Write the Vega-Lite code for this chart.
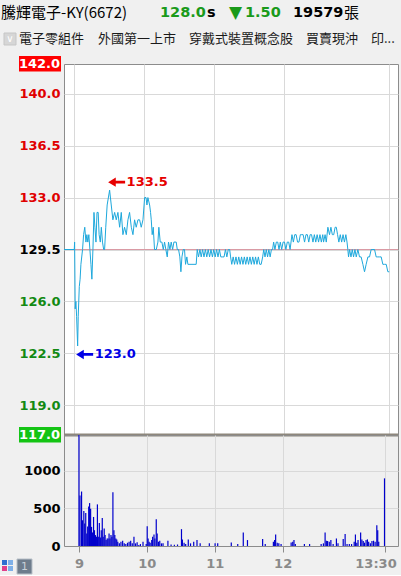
{
"$schema":"https://vega.github.io/schema/vega-lite/v6.json",
"background":"#f0f0f0",
"padding":0,
"autosize":{"type":"pad"},
"bounds":"flush",
"spacing":0,
"config":{"view":{"stroke":"#8c8c8c","fill":"#ffffff","strokeWidth":1},"axis":{"labelFont":"DejaVu Sans","labelFontWeight":"bold","labelFontSize":13,"gridColor":"#d9d9d9","gridWidth":1}},
"datasets":{
"price":[{"t":-8.8,"p":129.5},{"t":0,"p":129.5},{"t":0.3,"p":130.0},{"t":0.8,"p":125.5},{"t":1.4,"p":126.0},{"t":2.0,"p":125.0},{"t":2.9,"p":123.0},{"t":3.4,"p":125.0},{"t":4.3,"p":127.0},{"t":5.0,"p":127.5},{"t":5.7,"p":128.5},{"t":7.1,"p":129.5},{"t":8.0,"p":130.5},{"t":9.0,"p":131.0},{"t":10.0,"p":130.0},{"t":10.8,"p":130.5},{"t":11.6,"p":130.0},{"t":12.5,"p":130.5},{"t":13.4,"p":129.5},{"t":14.3,"p":128.5},{"t":15.1,"p":127.5},{"t":16.0,"p":129.5},{"t":16.9,"p":132.0},{"t":17.7,"p":131.0},{"t":18.6,"p":130.0},{"t":19.5,"p":132.0},{"t":20.5,"p":132.0},{"t":21.3,"p":130.5},{"t":22.3,"p":130.0},{"t":23.2,"p":131.0},{"t":24.2,"p":130.0},{"t":25.2,"p":129.5},{"t":26.0,"p":129.5},{"t":27.0,"p":131.0},{"t":28.2,"p":132.5},{"t":30.3,"p":133.5},{"t":31.7,"p":132.5},{"t":33.1,"p":131.5},{"t":34.6,"p":132.0},{"t":36.0,"p":131.5},{"t":37.4,"p":132.0},{"t":38.9,"p":131.0},{"t":40.3,"p":132.0},{"t":41.7,"p":130.5},{"t":43.1,"p":131.0},{"t":44.6,"p":130.5},{"t":46.0,"p":131.5},{"t":47.4,"p":132.0},{"t":48.9,"p":131.0},{"t":50.3,"p":130.5},{"t":51.7,"p":131.5},{"t":53.1,"p":131.0},{"t":54.6,"p":131.5},{"t":56.0,"p":131.5},{"t":57.4,"p":131.0},{"t":58.9,"p":131.5},{"t":60.3,"p":133.0},{"t":61.5,"p":133.0},{"t":62.3,"p":132.5},{"t":63.1,"p":133.0},{"t":64.6,"p":132.5},{"t":65.4,"p":132.0},{"t":66.0,"p":131.5},{"t":66.8,"p":130.5},{"t":67.7,"p":131.0},{"t":68.8,"p":129.5},{"t":70.3,"p":129.5},{"t":71.7,"p":130.0},{"t":72.5,"p":131.0},{"t":73.7,"p":130.0},{"t":75.1,"p":130.0},{"t":76.3,"p":129.5},{"t":77.4,"p":130.0},{"t":78.5,"p":129.5},{"t":79.7,"p":129.0},{"t":80.8,"p":130.0},{"t":82.0,"p":129.5},{"t":83.1,"p":130.0},{"t":84.3,"p":129.5},{"t":85.4,"p":130.0},{"t":87.4,"p":130.0},{"t":88.3,"p":129.5},{"t":89.4,"p":129.5},{"t":90.5,"p":129.0},{"t":91.4,"p":128.0},{"t":92.3,"p":129.0},{"t":93.4,"p":129.5},{"t":94.5,"p":129.5},{"t":95.4,"p":128.5},{"t":96.5,"p":129.0},{"t":97.4,"p":128.5},{"t":104.5,"p":128.5},{"t":105.4,"p":129.5},{"t":106.5,"p":129.0},{"t":107.7,"p":129.5},{"t":108.8,"p":129.0},{"t":110.0,"p":129.5},{"t":111.2,"p":129.0},{"t":112.4,"p":129.5},{"t":113.6,"p":129.0},{"t":114.8,"p":129.5},{"t":116.0,"p":129.0},{"t":117.2,"p":129.5},{"t":118.4,"p":129.0},{"t":119.6,"p":129.5},{"t":120.8,"p":129.0},{"t":122.0,"p":129.5},{"t":123.2,"p":129.0},{"t":124.4,"p":129.5},{"t":125.6,"p":129.0},{"t":126.8,"p":129.0},{"t":128.4,"p":129.0},{"t":129.6,"p":129.5},{"t":130.8,"p":129.0},{"t":132.0,"p":129.5},{"t":133.2,"p":129.5},{"t":134.0,"p":129.0},{"t":135.0,"p":128.5},{"t":136.2,"p":129.0},{"t":137.4,"p":128.5},{"t":138.6,"p":129.0},{"t":139.8,"p":128.5},{"t":141.0,"p":129.0},{"t":142.2,"p":128.5},{"t":143.4,"p":129.0},{"t":144.6,"p":128.5},{"t":145.8,"p":129.0},{"t":147.0,"p":128.5},{"t":148.2,"p":129.0},{"t":149.4,"p":128.5},{"t":150.6,"p":129.0},{"t":151.8,"p":128.5},{"t":153.0,"p":129.0},{"t":154.2,"p":128.5},{"t":155.4,"p":129.0},{"t":156.6,"p":128.5},{"t":157.8,"p":129.0},{"t":159.0,"p":128.5},{"t":160.2,"p":128.5},{"t":161.5,"p":129.0},{"t":162.4,"p":129.5},{"t":163.5,"p":129.0},{"t":164.6,"p":129.5},{"t":165.7,"p":129.0},{"t":166.8,"p":129.5},{"t":167.9,"p":129.0},{"t":169.0,"p":129.5},{"t":170.0,"p":129.5},{"t":170.9,"p":130.0},{"t":172.0,"p":129.5},{"t":173.2,"p":130.0},{"t":174.4,"p":130.0},{"t":175.5,"p":129.5},{"t":176.6,"p":130.0},{"t":177.8,"p":129.5},{"t":179.0,"p":130.0},{"t":180.2,"p":130.0},{"t":181.4,"p":129.5},{"t":182.6,"p":130.0},{"t":183.8,"p":130.0},{"t":185.0,"p":129.5},{"t":186.6,"p":130.5},{"t":187.8,"p":130.0},{"t":189.0,"p":130.5},{"t":190.2,"p":130.5},{"t":191.4,"p":130.0},{"t":192.6,"p":130.0},{"t":193.8,"p":130.5},{"t":195.0,"p":130.5},{"t":196.2,"p":130.5},{"t":197.4,"p":130.0},{"t":198.6,"p":130.5},{"t":199.8,"p":130.5},{"t":201.0,"p":130.0},{"t":202.2,"p":130.5},{"t":203.4,"p":130.5},{"t":204.6,"p":130.0},{"t":205.8,"p":130.5},{"t":207.0,"p":130.0},{"t":208.2,"p":130.5},{"t":209.4,"p":130.0},{"t":210.6,"p":130.5},{"t":211.8,"p":130.0},{"t":213.0,"p":130.5},{"t":213.7,"p":130.0},{"t":215.0,"p":130.5},{"t":216.0,"p":130.0},{"t":217.4,"p":131.0},{"t":218.8,"p":130.5},{"t":220.0,"p":131.0},{"t":221.2,"p":130.5},{"t":222.4,"p":130.5},{"t":223.6,"p":131.0},{"t":224.6,"p":131.0},{"t":225.7,"p":130.5},{"t":226.8,"p":130.0},{"t":228.0,"p":130.5},{"t":229.2,"p":130.0},{"t":230.4,"p":130.5},{"t":231.6,"p":130.0},{"t":232.8,"p":130.5},{"t":233.8,"p":130.0},{"t":234.5,"p":129.5},{"t":235.1,"p":129.0},{"t":236.0,"p":129.5},{"t":237.2,"p":129.0},{"t":238.3,"p":129.5},{"t":239.4,"p":129.0},{"t":240.6,"p":129.5},{"t":241.7,"p":129.0},{"t":243.1,"p":129.5},{"t":244.5,"p":129.0},{"t":245.9,"p":129.0},{"t":247.4,"p":128.5},{"t":248.8,"p":128.0},{"t":250.2,"p":128.5},{"t":251.7,"p":129.0},{"t":253.1,"p":129.0},{"t":254.5,"p":129.5},{"t":256.0,"p":129.5},{"t":257.4,"p":129.5},{"t":258.8,"p":129.0},{"t":260.2,"p":129.0},{"t":261.7,"p":129.0},{"t":263.1,"p":129.0},{"t":264.5,"p":128.5},{"t":266.0,"p":128.5},{"t":267.4,"p":128.5},{"t":268.8,"p":128.0},{"t":270.0,"p":128.0}],
"volume":[{"t":0,"v":1475},{"t":0.9,"v":671},{"t":2.3,"v":724},{"t":3.1,"v":342},{"t":4.3,"v":465},{"t":5.1,"v":298},{"t":6.0,"v":439},{"t":6.9,"v":167},{"t":7.7,"v":260},{"t":8.6,"v":526},{"t":9.4,"v":570},{"t":10.3,"v":496},{"t":11.1,"v":254},{"t":12.0,"v":180},{"t":12.9,"v":386},{"t":13.7,"v":210},{"t":14.6,"v":145},{"t":15.4,"v":123},{"t":16.3,"v":553},{"t":17.1,"v":123},{"t":18.0,"v":307},{"t":18.9,"v":114},{"t":19.7,"v":210},{"t":20.6,"v":373},{"t":21.4,"v":123},{"t":22.3,"v":232},{"t":23.1,"v":145},{"t":24.0,"v":80},{"t":24.9,"v":100},{"t":25.7,"v":100},{"t":26.6,"v":167},{"t":27.4,"v":100},{"t":28.3,"v":145},{"t":29.1,"v":123},{"t":30.0,"v":715},{"t":30.9,"v":210},{"t":31.7,"v":145},{"t":32.6,"v":100},{"t":33.4,"v":88},{"t":34.3,"v":57},{"t":35.7,"v":35},{"t":37.1,"v":57},{"t":38.6,"v":70},{"t":40.0,"v":35},{"t":41.4,"v":26},{"t":42.9,"v":44},{"t":44.3,"v":57},{"t":45.7,"v":70},{"t":47.1,"v":35},{"t":48.6,"v":123},{"t":50.0,"v":35},{"t":51.4,"v":50},{"t":52.9,"v":13},{"t":54.3,"v":26},{"t":56.6,"v":57},{"t":59.4,"v":26},{"t":60.3,"v":263},{"t":61.1,"v":100},{"t":62.0,"v":57},{"t":62.9,"v":44},{"t":64.3,"v":79},{"t":65.1,"v":123},{"t":66.3,"v":153},{"t":67.1,"v":100},{"t":68.3,"v":355},{"t":69.1,"v":167},{"t":70.3,"v":57},{"t":71.4,"v":70},{"t":72.9,"v":35},{"t":74.3,"v":35},{"t":78.6,"v":70},{"t":81.4,"v":20},{"t":84.3,"v":15},{"t":87.1,"v":20},{"t":90.6,"v":224},{"t":91.4,"v":88},{"t":92.9,"v":44},{"t":94.3,"v":26},{"t":96.6,"v":88},{"t":98.6,"v":35},{"t":101.4,"v":57},{"t":104.3,"v":79},{"t":107.1,"v":35},{"t":115.2,"v":35},{"t":120.3,"v":35},{"t":122.6,"v":35},{"t":134.6,"v":48},{"t":140.3,"v":26},{"t":145.2,"v":180},{"t":148.9,"v":79},{"t":162.3,"v":92},{"t":164.6,"v":26},{"t":171.8,"v":57},{"t":172.9,"v":79},{"t":173.8,"v":153},{"t":175.2,"v":44},{"t":176.6,"v":35},{"t":178.6,"v":26},{"t":187.5,"v":48},{"t":188.9,"v":57},{"t":190.0,"v":79},{"t":191.2,"v":26},{"t":199.2,"v":26},{"t":203.8,"v":26},{"t":214.0,"v":26},{"t":216.0,"v":35},{"t":217.5,"v":180},{"t":218.6,"v":70},{"t":219.7,"v":66},{"t":221.2,"v":57},{"t":222.6,"v":79},{"t":224.6,"v":26},{"t":227.5,"v":100},{"t":228.9,"v":35},{"t":233.5,"v":92},{"t":235.2,"v":158},{"t":236.9,"v":26},{"t":238.9,"v":26},{"t":240.9,"v":26},{"t":243.2,"v":57},{"t":244.3,"v":153},{"t":245.5,"v":44},{"t":246.6,"v":79},{"t":248.9,"v":180},{"t":250.0,"v":88},{"t":251.2,"v":66},{"t":252.3,"v":44},{"t":253.7,"v":79},{"t":254.9,"v":88},{"t":256.0,"v":57},{"t":257.5,"v":35},{"t":258.9,"v":66},{"t":260.3,"v":70},{"t":261.7,"v":57},{"t":263.2,"v":276},{"t":264.0,"v":210},{"t":264.9,"v":57},{"t":270.0,"v":899}],
"extremes":[{"t":30.3,"p":133.5,"kind":"high"},{"t":2.9,"p":123.0,"kind":"low"}],
"limits":[{"p":142.0,"kind":"limitUp"},{"p":117.0,"kind":"limitDown"}]
},
"vconcat":[
{"width":334,"height":371,
"layer":[
{"data":{"values":[{}]},"mark":{"type":"rect","x":-63,"x2":338,"y":-63,"y2":0,"fill":"#f0f0f0"},"encoding":{}},
{"data":{"values":[{}]},"mark":{"type":"rule","x":-63,"x2":338,"y":-16,"y2":-16,"stroke":"#c4c4c4","strokeWidth":1},"encoding":{}},
{"data":{"values":[{"s":"騰輝電子-KY(6672)"}]},"mark":{"type":"text","x":-63,"y":-51.5,"align":"left","baseline":"middle","font":"Noto Sans CJK TC","fontSize":15,"fill":"#000000"},"encoding":{"text":{"field":"s"}}},
{"data":{"values":[{"s":"128.0"}]},"mark":{"type":"text","x":96,"y":-51.5,"align":"left","baseline":"middle","font":"DejaVu Sans","fontWeight":"bold","fontSize":14.5,"fill":"#1a9a1a"},"encoding":{"text":{"field":"s"}}},
{"data":{"values":[{"s":"s"}]},"mark":{"type":"text","x":143,"y":-51.5,"align":"left","baseline":"middle","font":"DejaVu Sans","fontWeight":"bold","fontSize":14.5,"fill":"#000000"},"encoding":{"text":{"field":"s"}}},
{"data":{"values":[{"s":"▼"}]},"mark":{"type":"text","x":165,"y":-51.5,"align":"left","baseline":"middle","font":"DejaVu Sans","fontSize":17,"fill":"#1a9a1a"},"encoding":{"text":{"field":"s"}}},
{"data":{"values":[{"s":"1.50"}]},"mark":{"type":"text","x":181,"y":-51.5,"align":"left","baseline":"middle","font":"DejaVu Sans","fontWeight":"bold","fontSize":14.5,"fill":"#1a9a1a"},"encoding":{"text":{"field":"s"}}},
{"data":{"values":[{"s":"19579"}]},"mark":{"type":"text","x":229,"y":-51.5,"align":"left","baseline":"middle","font":"DejaVu Sans","fontWeight":"bold","fontSize":14.5,"fill":"#000000"},"encoding":{"text":{"field":"s"}}},
{"data":{"values":[{"s":"張"}]},"mark":{"type":"text","x":280,"y":-51.5,"align":"left","baseline":"middle","font":"Noto Sans CJK TC","fontSize":15,"fill":"#000000"},"encoding":{"text":{"field":"s"}}},
{"data":{"values":[{}]},"mark":{"type":"rect","x":-60,"x2":-48,"y":-31,"y2":-19,"fill":"#d6d6d6","stroke":"#c6c6c6"},"encoding":{}},
{"data":{"values":[{"s":"∨"}]},"mark":{"type":"text","x":-54,"y":-25,"align":"center","baseline":"middle","font":"DejaVu Sans","fontSize":10,"fill":"#ffffff"},"encoding":{"text":{"field":"s"}}},
{"data":{"values":[{"s":"電子零組件"}]},"mark":{"type":"text","x":-45,"y":-25,"align":"left","baseline":"middle","font":"Noto Sans CJK TC","fontSize":13,"fill":"#1a1a1a"},"encoding":{"text":{"field":"s"}}},
{"data":{"values":[{"s":"外國第一上市"}]},"mark":{"type":"text","x":34,"y":-25,"align":"left","baseline":"middle","font":"Noto Sans CJK TC","fontSize":13,"fill":"#1a1a1a"},"encoding":{"text":{"field":"s"}}},
{"data":{"values":[{"s":"穿戴式裝置概念股"}]},"mark":{"type":"text","x":125,"y":-25,"align":"left","baseline":"middle","font":"Noto Sans CJK TC","fontSize":13,"fill":"#1a1a1a"},"encoding":{"text":{"field":"s"}}},
{"data":{"values":[{"s":"買賣現沖"}]},"mark":{"type":"text","x":242,"y":-25,"align":"left","baseline":"middle","font":"Noto Sans CJK TC","fontSize":13,"fill":"#1a1a1a"},"encoding":{"text":{"field":"s"}}},
{"data":{"values":[{"s":"印..."}]},"mark":{"type":"text","x":307,"y":-25,"align":"left","baseline":"middle","font":"Noto Sans CJK TC","fontSize":13,"fill":"#1a1a1a"},"encoding":{"text":{"field":"s"}}},
{"data":{"values":[{"p":129.5}]},"mark":{"type":"rule","color":"#d99aa4","strokeWidth":1},"encoding":{"y":{"field":"p","type":"quantitative"}}},
{"data":{"name":"price"},
"mark":{"type":"line","color":"#1ea8dc","strokeWidth":1,"clip":true},
"encoding":{
"x":{"field":"t","type":"quantitative","scale":{"domain":[-8.8,277.5],"nice":false,"zero":false},"axis":{"values":[0,60,120,180,270],"labels":false,"ticks":false,"domain":false,"grid":true,"title":null}},
"y":{"field":"p","type":"quantitative","scale":{"domain":[117,142],"nice":false,"zero":false},"axis":{"values":[140,136.5,133,129.5,126,122.5,119],"format":".1f","title":null,"ticks":false,"domain":false,"labelPadding":4,"grid":true,"labelColor":{"condition":[{"test":"datum.value > 129.6","value":"#e00000"},{"test":"datum.value < 129.4","value":"#138a13"}],"value":"#000000"}}}
}},
{"data":{"name":"limits"},"mark":{"type":"rect","x":-45,"x2":-3,"yOffset":-8,"y2Offset":7.5},"encoding":{"y":{"field":"p","type":"quantitative"},"y2":{"field":"p"},"fill":{"field":"kind","type":"nominal","scale":{"domain":["limitUp","limitDown"],"range":["#ff0000","#14c414"]},"legend":null}}},
{"data":{"name":"limits"},"mark":{"type":"text","x":-4,"align":"right","baseline":"middle","font":"DejaVu Sans","fontWeight":"bold","fontSize":13,"fill":"#ffffff"},"encoding":{"y":{"field":"p","type":"quantitative"},"text":{"field":"p","type":"quantitative","format":".1f"}}},
{"data":{"name":"extremes"},"transform":[{"filter":"datum.kind == 'high'"}],"mark":{"type":"point","shape":"M-1,0L-0.1,-0.55L-0.1,-0.16L1,-0.16L1,0.16L-0.1,0.16L-0.1,0.55Z","filled":true,"size":289,"opacity":1,"fill":"#e60000","strokeWidth":0,"xOffset":7,"yOffset":-8},"encoding":{"x":{"field":"t","type":"quantitative"},"y":{"field":"p","type":"quantitative"}}},
{"data":{"name":"extremes"},"transform":[{"filter":"datum.kind == 'high'"}],"mark":{"type":"text","align":"left","baseline":"middle","dx":17,"dy":-8,"font":"DejaVu Sans","fontWeight":"bold","fontSize":13,"fill":"#e60000"},"encoding":{"x":{"field":"t","type":"quantitative"},"y":{"field":"p","type":"quantitative"},"text":{"field":"p","type":"quantitative","format":".1f"}}},
{"data":{"name":"extremes"},"transform":[{"filter":"datum.kind == 'low'"}],"mark":{"type":"point","shape":"M-1,0L-0.1,-0.55L-0.1,-0.16L1,-0.16L1,0.16L-0.1,0.16L-0.1,0.55Z","filled":true,"size":289,"opacity":1,"fill":"#0000e6","strokeWidth":0,"xOffset":7,"yOffset":8.5},"encoding":{"x":{"field":"t","type":"quantitative"},"y":{"field":"p","type":"quantitative"}}},
{"data":{"name":"extremes"},"transform":[{"filter":"datum.kind == 'low'"}],"mark":{"type":"text","align":"left","baseline":"middle","dx":17,"dy":8.5,"font":"DejaVu Sans","fontWeight":"bold","fontSize":13,"fill":"#0000e6"},"encoding":{"x":{"field":"t","type":"quantitative"},"y":{"field":"p","type":"quantitative"},"text":{"field":"p","type":"quantitative","format":".1f"}}},
{"data":{"values":[{"p":117}]},"mark":{"type":"rule","color":"#8e877c","strokeWidth":3},"encoding":{"y":{"field":"p","type":"quantitative"}}}
]},
{"width":334,"height":111,
"layer":[
{"data":{"name":"volume"},
"mark":{"type":"bar","color":"#0000cc","width":1.2,"clip":true},
"encoding":{
"x":{"field":"t","type":"quantitative","scale":{"domain":[-8.8,277.5],"nice":false,"zero":false},"axis":{"values":[0,60,120,180,270],"title":null,"grid":true,"domain":true,"domainColor":"#8c8c8c","ticks":true,"tickColor":"#8c8c8c","tickSize":6,"labelPadding":5,"labelFlush":false,"labelColor":"#8a8a8a","labelExpr":"datum.value == 270 ? '13:30' : '' + (9 + datum.value / 60)","labelAlign":"center","labelOffset":{"condition":{"test":"datum.value == 270","value":-9},"value":0}}},
"y":{"field":"v","type":"quantitative","scale":{"domain":[0,1475],"nice":false,"zero":true},"axis":{"values":[0,500,1000],"format":"d","title":null,"ticks":false,"domain":false,"labelPadding":4,"labelColor":"#000000","grid":true}}
}},
{"data":{"values":[{}]},"mark":{"type":"rect","x":-62,"x2":-57,"y":125,"y2":130,"fill":"#2f6fd0"},"encoding":{}},
{"data":{"values":[{}]},"mark":{"type":"rect","x":-56,"x2":-51,"y":125,"y2":130,"fill":"#7fb0e8"},"encoding":{}},
{"data":{"values":[{}]},"mark":{"type":"rect","x":-62,"x2":-57,"y":131,"y2":136,"fill":"#e0408a"},"encoding":{}},
{"data":{"values":[{}]},"mark":{"type":"rect","x":-56,"x2":-51,"y":131,"y2":136,"fill":"#7fb0e8"},"encoding":{}},
{"data":{"values":[{}]},"mark":{"type":"rect","x":-47,"x2":-32,"y":124,"y2":139,"fill":"#6e7c8c","stroke":"#b8c0c8"},"encoding":{}},
{"data":{"values":[{"s":"1"}]},"mark":{"type":"text","x":-39.5,"y":131.5,"align":"center","baseline":"middle","font":"DejaVu Sans","fontSize":11,"fill":"#c8d0d8"},"encoding":{"text":{"field":"s"}}}
]}
]
}
